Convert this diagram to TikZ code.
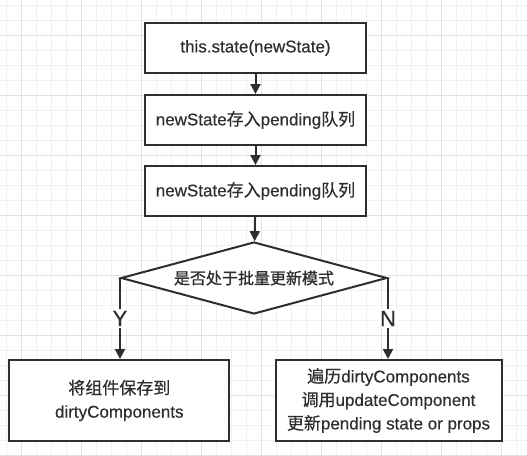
\documentclass[tikz,border=0pt]{standalone}
\usepackage{fontspec}
\setmainfont{Liberation Sans}[RawFeature={embolden=0.4}]
\newfontfamily\cjk{Noto Sans CJK SC}[RawFeature={embolden=0.5}]
\newfontfamily\cjkb{Noto Sans CJK SC}[RawFeature={embolden=1.0}]
\usetikzlibrary{shapes.geometric,arrows.meta}
\definecolor{ink}{HTML}{2E2E2E}
\definecolor{gridminor}{HTML}{F0F0F0}
\definecolor{gridmajor}{HTML}{E2E2E2}
\begin{document}
\begin{tikzpicture}[x=1pt,y=-1pt,
  box/.style={draw=ink,line width=2pt,fill=white,inner sep=0pt,text=ink,
    align=center,font=\fontsize{17}{23.5}\selectfont},
  cond/.style={diamond,aspect=3.694,draw=ink,line width=2pt,fill=white,inner sep=0pt,
    minimum width=266pt,minimum height=72pt,text=ink,font=\cjkb\fontsize{16}{20}\selectfont},
  link/.style={draw=ink,line width=2pt,-{Triangle[length=10pt,width=10pt]}},
  yn/.style={fill=white,text=ink,inner sep=2pt,font=\fontsize{22}{24}\selectfont}]
\useasboundingbox (0,0) rectangle (527,455);
\fill[white] (0,0) rectangle (527,455);
\foreach \x in {6.7,21.7,...,527} \draw[gridminor,line width=1pt] (\x,0) -- (\x,455);
\foreach \y in {5,20,...,455} \draw[gridminor,line width=1pt] (0,\y) -- (527,\y);
\foreach \x in {21.7,81.7,...,527} \draw[gridmajor,line width=1pt] (\x,0) -- (\x,455);
\foreach \y in {35,95,...,455} \draw[gridmajor,line width=1pt] (0,\y) -- (527,\y);

\node[box,minimum width=221pt,minimum height=50pt] (b1) at (255.5,48) {this.state(newState)};
\node[box,minimum width=221pt,minimum height=50pt] (b2) at (255.5,120) {newState{\cjk 存入}pending{\cjk 队列}};
\node[box,minimum width=221pt,minimum height=50pt] (b3) at (255.5,191) {newState{\cjk 存入}pending{\cjk 队列}};
\node[cond] (d) at (254,278) {是否处于批量更新模式};
\node[box,minimum width=220pt,minimum height=81pt] (lb) at (119.3,400.5) {{\cjk 将组件保存到}\\dirtyComponents};
\node[box,minimum width=226pt,minimum height=81pt] (rb) at (388.5,400.5) {{\cjk 遍历}dirtyComponents\\{\cjk 调用}updateComponent\\{\cjk 更新}pending state or props};

\draw[link] (b1) -- (b2);
\draw[link] (b2) -- (b3);
\draw[link] (b3) -- (d);
\draw[link] (d.west) -- node[yn] {Y} (d.west |- lb.north);
\draw[link] (d.east) -- node[yn] {N} (d.east |- rb.north);
\end{tikzpicture}
\end{document}
